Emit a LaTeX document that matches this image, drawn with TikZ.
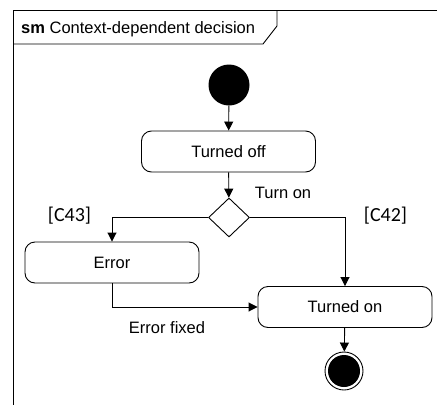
\documentclass[tikz,border=0pt]{standalone}
\usepackage{fontspec}
\setmainfont{Liberation Sans}
\newfontfamily\guardfont{Carlito}
\usetikzlibrary{arrows.meta,shapes.geometric}

\tikzset{
  ln/.style={line width=0.9pt, draw=black},
  flow/.style={ln, -{Triangle[length=9pt,width=9pt]}},
  statebox/.style={ln, rounded corners=10pt, minimum width=174pt,
    minimum height=41pt, inner sep=0pt,
    font=\fontsize{16.5}{19}\selectfont},
  lbl/.style={inner sep=0pt, font=\fontsize{16.5}{19}\selectfont},
  guard/.style={inner sep=0pt, font=\guardfont\fontsize{20}{23}\selectfont},
}

\begin{document}
\begin{tikzpicture}[x=1pt,y=-1pt]
  \useasboundingbox (0,0) rectangle (437,405);

  % diagram frame and its name tab
  \draw[ln] (437,10) -- (13,10) -- (13,405);
  \draw[ln] (13,44) -- (263,44) -- (277,26) -- (277,10);
  \node[lbl, anchor=west] (title) at (21,29)
    {\textbf{sm} Context-dependent decision};

  % states
  \node[circle, fill=black, minimum size=41pt, inner sep=0pt] (init) at (229,85) {};
  \node[statebox] (off) at (228.5,151.5) {Turned off};
  \node[diamond, ln, minimum width=41pt, minimum height=39pt, inner sep=0pt] (dec) at (229,217.5) {};
  \node[statebox] (err) at (112,262.5) {Error};
  \node[statebox] (on) at (345,307) {Turned on};
  \node[circle, ln, minimum size=38pt, inner sep=0pt] (final) at (344,371) {};
  \node[circle, fill=black, minimum size=32pt, inner sep=0pt] (finalin) at (final.center) {};

  % transitions
  \draw[flow] (init) -- (off);
  \draw[flow] (off) -- (dec);
  \draw[flow] (dec.west) -| (err.north);
  \draw[flow] (dec.east) -| (on.north);
  \draw[flow] (err.south) |- (on.west);
  \draw[flow] (on) -- (final);

  % labels
  \node[lbl] (turnon) at (283,193) {Turn on};
  \node[guard] (c43) at (69.5,216) {[C43]};
  \node[guard] (c42) at (385.5,216) {[C42]};
  \node[lbl] (fixed) at (167,328) {Error fixed};
\end{tikzpicture}
\end{document}
